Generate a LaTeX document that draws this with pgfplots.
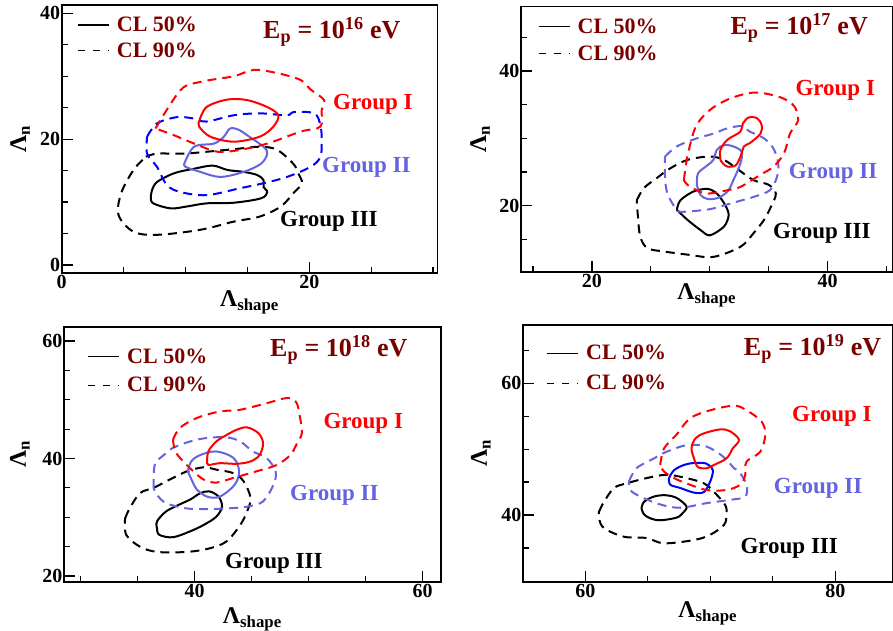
\documentclass[border=0pt]{standalone}
\usepackage{fontspec}
\setmainfont{Liberation Serif}
\usepackage{pgfplots}
\pgfplotsset{compat=1.18}
\definecolor{dred}{RGB}{122,0,0}
\definecolor{lblue}{RGB}{100,100,224}
\pgfplotsset{
  panel/.style={
    scale only axis,
    axis line style={line width=1.6pt},
    tick align=inside, xtick pos=lower, ytick pos=left,
    major tick length=11pt, minor tick length=6pt,
    major tick style={line width=1.3pt, black},
    minor tick style={line width=1.2pt, black},
    tick label style={font=\fontsize{20}{20}\selectfont},
    yticklabel style={inner xsep=1.5pt},
    xticklabel style={inner ysep=2pt},
    label style={font=\bfseries\fontsize{24}{24}\selectfont},
    ylabel style={anchor=center, inner sep=0pt},
    xlabel style={at={(axis description cs:0.5,0)}, anchor=north, inner sep=0pt},
    xlabel={\textbf{Λ\textsubscript{shape}}}, ylabel={\textbf{Λ\textsubscript{n}}},
    legend image code/.code={\draw[#1] (0pt,0pt) -- (31pt,0pt);},
    legend style={draw=none, fill=none, anchor=north west, inner sep=0pt,
      nodes={inner sep=0pt}, column sep=7.5pt,
      font=\fontsize{22}{22}\selectfont, text=dred},
    legend cell align=left,
  },
  c90/.style={line width=2pt, dash pattern=on 9pt off 6pt},
  c50/.style={line width=2pt},
}
\begin{document}
\begin{tikzpicture}
\path[use as bounding box] (0pt,0pt) rectangle (893pt,630pt);

% ---------- Panel 1: 10^16 eV
\begin{axis}[panel, at={(61.7pt,357.3pt)}, anchor=south west,
  width=375.6pt, height=267.7pt,
  xmin=0, xmax=30.34, ymin=-1.22, ymax=41.32,
  xtick={0,20}, xticklabels={\textbf{0},\textbf{20}}, minor xtick={5,10,15,25,30},
  ytick={0,20,40}, yticklabels={\textbf{0},\textbf{20},\textbf{40}}, minor ytick={5,10,15,25,30,35},
  ylabel style={at={(axis description cs:-0.111,0.5)}}, xlabel style={yshift=-18pt},
  legend style={at={(0.0407,0.956)}, row sep=9.5pt}]
\addlegendimage{black, line width=1.2pt}
\addlegendentry{\textbf{CL 50\%}}
\addlegendimage{black, line width=1.2pt, dash pattern=on 7pt off 8pt}
\addlegendentry{\textbf{CL 90\%}}
\addplot[black, c90, smooth, tension=0.55] coordinates {(6.8,17.2) (7.7,17.7) (9.9,17.7) (11.7,18.0) (13.9,18.4) (16.0,18.8) (17.4,18.3) (18.7,16.1) (19.1,14.6) (19.4,13.0) (18.7,11.4) (17.7,9.3) (16.0,7.7) (13.9,6.9) (11.2,5.6) (7.7,4.8) (5.8,5.3) (4.6,7.9) (4.8,11.4) (5.8,15.1) (6.8,17.2)};
\addplot[black, c50, smooth, tension=0.55] coordinates {(7.3,11.9) (7.7,13.2) (9.1,14.6) (10.7,15.3) (12.2,15.8) (13.4,15.1) (14.7,14.8) (15.8,14.3) (16.3,13.5) (16.3,12.4) (16.6,11.6) (16.1,10.6) (13.9,9.9) (11.7,9.8) (10.1,9.3) (8.8,9.0) (7.4,9.8) (7.2,10.8) (7.3,11.9)};
\addplot[blue, c90, smooth, tension=0.55] coordinates {(6.9,20.4) (7.7,22.5) (9.3,23.5) (10.6,23.3) (11.7,22.8) (13.9,23.8) (16.0,24.1) (18.2,23.8) (18.7,24.3) (20.4,24.1) (20.9,22.2) (21.0,19.8) (20.9,17.2) (20.1,15.6) (18.2,14.0) (16.3,13.0) (14.4,12.2) (11.7,11.1) (9.6,11.6) (8.5,12.7) (7.7,15.6) (6.9,17.7) (6.9,20.4)};
\addplot[lblue, c50, smooth, tension=0.55] coordinates {(9.9,16.1) (10.7,18.8) (12.3,19.3) (13.1,20.4) (13.6,21.7) (14.3,21.5) (15.0,20.6) (16.3,18.8) (16.6,17.7) (16.1,16.1) (14.7,14.8) (12.8,14.0) (11.2,14.8) (10.0,15.6) (9.9,16.1)};
\addplot[red, c90, smooth, tension=0.55] coordinates {(7.58,21.7) (9.6,27.8) (11.2,29.1) (13.9,30.0) (15.5,31.0) (17.4,30.5) (19.3,29.4) (20.1,27.9) (21.2,26.2) (21.0,24.6) (20.9,22.0) (19.3,21.2) (16.6,19.3) (14.4,18.3) (12.6,18.0) (10.7,19.3) (9.1,20.6) (7.58,21.7)};
\addplot[red, c50, smooth, tension=0.55] coordinates {(11.1,22.8) (11.7,25.1) (13.4,26.3) (15.0,26.2) (16.6,25.1) (17.5,23.8) (17.1,22.0) (16.0,20.4) (13.9,19.6) (12.0,20.4) (11.1,22.0) (11.1,22.8)};
\end{axis}

% ---------- Panel 2: 10^17 eV
\begin{axis}[panel, at={(521pt,358.3pt)}, anchor=south west,
  width=371.5pt, height=265pt,
  xmin=13.98, xmax=45.5, ymin=10.2, ymax=49.55,
  xtick={20,40}, xticklabels={\textbf{20},\textbf{40}}, minor xtick={15,25,30,35,45},
  ytick={20,40}, yticklabels={\textbf{20},\textbf{40}}, minor ytick={15,25,30,35,45},
  ylabel style={at={(axis description cs:-0.110,0.5)}}, xlabel style={yshift=-11.6pt},
  legend style={at={(0.045,0.956)}, row sep=11pt}]
\addlegendimage{black, line width=1.2pt}
\addlegendentry{\textbf{CL 50\%}}
\addlegendimage{black, line width=1.2pt, dash pattern=on 7pt off 8pt}
\addlegendentry{\textbf{CL 90\%}}
\addplot[black, c90, smooth, tension=0.55] coordinates {(23.8,20.8) (24.4,22.6) (25.5,24.1) (26.6,25.5) (28.1,26.8) (30.0,27.3) (31.2,26.8) (32.3,25.5) (33.7,23.8) (35.0,23.1) (35.6,21.8) (35.2,19.9) (34.6,17.9) (33.7,15.9) (32.6,13.9) (30.3,12.4) (28.3,12.7) (26.1,13.2) (24.7,13.7) (24.1,15.4) (23.9,18.4) (23.8,20.8)};
\addplot[black, c50, smooth, tension=0.5] coordinates {(27.2,19.4) (27.5,20.8) (28.6,22.1) (29.8,22.5) (30.6,21.8) (31.3,20.1) (31.6,18.6) (31.2,16.9) (30.0,15.6) (29.2,16.4) (28.1,17.9) (27.2,19.4)};
\addplot[lblue, c90, smooth, tension=0.55] coordinates {(26.2,27.3) (27.2,28.8) (28.9,30.0) (30.3,30.7) (31.5,31.5) (32.7,31.8) (33.4,31.0) (34.6,30.0) (35.4,28.5) (35.8,26.3) (35.7,24.3) (35.1,22.3) (33.7,21.3) (32.3,20.6) (30.3,19.6) (29.2,19.3) (27.5,19.1) (27.1,19.6) (26.4,21.8) (26.2,24.3) (26.2,27.3)};
\addplot[lblue, c50, smooth, tension=0.55] coordinates {(28.9,23.1) (29.0,24.8) (29.8,26.0) (30.3,26.8) (30.6,28.3) (31.2,29.0) (32.0,28.8) (32.7,28.0) (32.6,26.3) (32.0,23.8) (31.5,22.1) (30.6,21.1) (29.8,21.0) (29.2,21.6) (28.9,23.1)};
\addplot[red, c90, smooth, tension=0.55] coordinates {(27.8,23.8) (28.1,27.3) (28.8,31.7) (30.0,34.2) (31.7,35.9) (33.7,36.8) (35.4,36.4) (36.5,35.7) (37.2,34.7) (37.5,32.7) (36.8,30.7) (36.3,27.8) (35.4,25.8) (34.3,24.6) (32.6,22.8) (31.5,22.3) (29.8,21.8) (28.9,22.3) (28.1,23.1) (27.8,23.8)};
\addplot[red, c50, smooth, tension=0.55] coordinates {(30.9,26.8) (30.9,28.3) (31.5,29.8) (32.6,31.0) (32.8,32.2) (33.3,33.1) (34.0,33.0) (34.4,32.0) (34.3,30.7) (33.4,29.3) (32.9,28.8) (32.6,27.3) (32.2,26.0) (31.5,25.8) (31.1,26.3) (30.9,26.8)};
\end{axis}

% ---------- Panel 3: 10^18 eV
\begin{axis}[panel, at={(64pt,48.3pt)}, anchor=south west,
  width=376.7pt, height=255pt,
  xmin=28.54, xmax=61.58, ymin=19.03, ymax=62.43,
  xtick={40,60}, xticklabels={\textbf{40},\textbf{60}}, minor xtick={30,35,45,50,55},
  ytick={20,40,60}, yticklabels={\textbf{20},\textbf{40},\textbf{60}}, minor ytick={25,30,35,45,50,55},
  ylabel style={at={(axis description cs:-0.117,0.5)}}, xlabel style={yshift=-26pt},
  legend style={at={(0.0619,0.915)}, row sep=12.5pt}]
\addlegendimage{black, line width=1.2pt}
\addlegendentry{\textbf{CL 50\%}}
\addlegendimage{black, line width=1.2pt, dash pattern=on 7pt off 8pt}
\addlegendentry{\textbf{CL 90\%}}
\addplot[black, c90, smooth, tension=0.55] coordinates {(33.9,29.8) (34.3,31.5) (35.2,34.1) (36.4,35.0) (37.5,36.1) (39.3,37.8) (40.8,38.5) (41.9,38.1) (43.4,37.5) (44.3,36.1) (44.9,33.3) (44.6,31.0) (44.0,28.7) (42.8,25.9) (41.3,24.7) (39.3,24.1) (36.7,24.1) (35.2,25.0) (34.0,27.0) (33.9,29.8)};
\addplot[black, c50, smooth, tension=0.55] coordinates {(36.7,28.1) (36.7,29.3) (37.5,31.0) (38.7,32.2) (39.6,33.0) (40.5,34.1) (41.3,34.4) (42.1,33.5) (42.4,31.8) (41.9,30.1) (40.8,28.7) (39.6,27.6) (38.1,26.6) (36.9,27.0) (36.7,28.1)};
\addplot[lblue, c90, smooth, tension=0.55] coordinates {(36.4,35.0) (36.5,38.9) (37.3,40.6) (38.1,41.8) (39.6,42.9) (41.1,43.5) (42.8,43.6) (44.0,42.9) (45.1,41.2) (46.3,40.1) (47.1,37.8) (46.9,35.5) (46.0,32.7) (44.6,31.8) (42.8,31.5) (41.1,31.4) (39.3,31.5) (37.5,32.4) (36.7,33.8) (36.4,35.0)};
\addplot[lblue, c50, smooth, tension=0.55] coordinates {(39.4,37.8) (39.7,39.5) (40.5,40.6) (41.9,41.2) (43.4,40.1) (43.9,37.8) (43.5,35.5) (42.2,33.5) (41.1,33.5) (40.2,34.7) (39.8,36.1) (39.4,37.8)};
\addplot[red, c90, smooth, tension=0.55] coordinates {(38.1,43.2) (38.7,45.2) (40.2,46.9) (42.2,48.0) (44.0,48.3) (46.3,49.4) (48.1,50.3) (48.9,49.6) (49.2,47.4) (49.4,44.3) (48.9,42.3) (48.4,40.6) (47.2,38.9) (45.4,37.8) (43.4,36.7) (41.9,35.9) (40.8,36.4) (39.9,37.8) (39.0,39.5) (38.3,41.2) (38.1,43.2)};
\addplot[red, c50, smooth, tension=0.55] coordinates {(41.1,39.5) (41.2,41.2) (41.9,42.9) (42.8,44.0) (43.7,44.9) (44.6,45.3) (45.6,44.3) (46.0,42.6) (45.7,40.6) (44.9,39.5) (43.7,39.1) (42.2,39.2) (41.2,38.9) (41.1,39.5)};
\end{axis}

% ---------- Panel 4: 10^19 eV
\begin{axis}[panel, at={(523pt,48.3pt)}, anchor=south west,
  width=369.5pt, height=256.7pt,
  xmin=55.02, xmax=84.58, ymin=29.87, ymax=68.85,
  xtick={60,80}, xticklabels={\textbf{60},\textbf{80}}, minor xtick={65,70,75},
  ytick={40,60}, yticklabels={\textbf{40},\textbf{60}}, minor ytick={35,45,50,55,65},
  ylabel style={at={(axis description cs:-0.114,0.5)}}, xlabel style={yshift=-20pt},
  legend style={at={(0.063,0.922)}, row sep=14pt}]
\addlegendimage{black, line width=1.2pt}
\addlegendentry{\textbf{CL 50\%}}
\addlegendimage{black, line width=1.2pt, dash pattern=on 7pt off 8pt}
\addlegendentry{\textbf{CL 90\%}}
\addplot[black, c90, smooth, tension=0.55] coordinates {(61.1,40.5) (61.5,42.0) (62.3,44.1) (63.3,44.8) (64.9,45.6) (66.5,46.1) (68.1,45.6) (69.5,44.8) (70.3,43.5) (71.2,41.5) (71.3,40.0) (71.1,38.5) (70.0,37.0) (68.7,36.2) (66.3,35.7) (64.9,36.5) (63.1,36.7) (61.5,38.0) (61.1,39.5) (61.1,40.5)};
\addplot[black, c50, smooth, tension=0.55] coordinates {(64.5,41.0) (64.7,42.0) (65.5,42.8) (66.4,43.0) (67.3,42.6) (68.1,41.3) (67.8,40.3) (67.3,39.6) (66.0,39.2) (65.2,39.5) (64.7,40.1) (64.5,41.0)};
\addplot[lblue, c90, smooth, tension=0.55] coordinates {(63.5,45.1) (64.1,47.1) (65.5,48.6) (66.5,49.6) (68.1,50.6) (69.5,50.5) (70.5,49.6) (71.3,48.4) (71.9,47.1) (72.3,46.6) (72.9,44.6) (72.8,42.8) (71.6,42.3) (69.7,41.8) (67.6,41.1) (66.0,41.6) (64.4,42.8) (63.6,43.8) (63.5,45.1)};
\addplot[blue, c50, smooth, tension=0.55] coordinates {(66.7,45.6) (67.1,46.8) (67.9,47.6) (68.7,47.9) (69.7,47.8) (70.2,46.8) (70.0,45.1) (69.5,43.5) (68.7,43.4) (67.6,44.1) (66.8,44.6) (66.7,45.6)};
\addplot[red, c90, smooth, tension=0.55] coordinates {(66.0,47.6) (66.3,50.1) (67.3,52.2) (68.4,54.7) (70.0,55.9) (71.9,56.6) (72.9,55.9) (74.1,54.2) (74.4,52.2) (74.0,49.6) (72.9,48.1) (72.8,46.1) (72.4,44.6) (71.3,43.8) (69.7,43.8) (68.1,44.8) (67.1,45.6) (66.3,46.6) (66.0,47.6)};
\addplot[red, c50, smooth, tension=0.55] coordinates {(68.7,48.6) (68.5,50.1) (68.8,51.6) (69.5,52.4) (70.8,53.0) (71.6,52.7) (72.3,51.4) (71.8,50.1) (71.3,48.6) (70.3,47.6) (69.7,47.1) (69.0,47.3) (68.7,48.6)};
\end{axis}

% ---------- Titles and group labels
\begin{scope}[every node/.style={anchor=base west, inner sep=0pt, font=\fontsize{23}{23}\selectfont}]
\node[text=dred, font=\fontsize{26}{26}\selectfont] at (263pt,591.7pt) {\textbf{E\textsubscript{p} = 10\textsuperscript{16} eV}};
\node[text=red] at (333pt,520.7pt) {\textbf{Group I}};
\node[text=lblue] at (322pt,457.3pt) {\textbf{Group II}};
\node[text=black] at (280pt,403.3pt) {\textbf{Group III}};

\node[text=dred, font=\fontsize{26}{26}\selectfont] at (730.3pt,595pt) {\textbf{E\textsubscript{p} = 10\textsuperscript{17} eV}};
\node[text=red] at (795.3pt,534pt) {\textbf{Group I}};
\node[text=lblue] at (788.7pt,451.7pt) {\textbf{Group II}};
\node[text=black] at (773pt,391.7pt) {\textbf{Group III}};

\node[text=dred, font=\fontsize{26}{26}\selectfont] at (270pt,273.3pt) {\textbf{E\textsubscript{p} = 10\textsuperscript{18} eV}};
\node[text=red] at (323.3pt,201.7pt) {\textbf{Group I}};
\node[text=lblue] at (290pt,130pt) {\textbf{Group II}};
\node[text=black] at (225pt,61.7pt) {\textbf{Group III}};

\node[text=dred, font=\fontsize{26}{26}\selectfont] at (743.7pt,274.3pt) {\textbf{E\textsubscript{p} = 10\textsuperscript{19} eV}};
\node[text=red] at (792pt,209pt) {\textbf{Group I}};
\node[text=lblue] at (773.7pt,136.7pt) {\textbf{Group II}};
\node[text=black] at (740.3pt,76.7pt) {\textbf{Group III}};
\end{scope}
\end{tikzpicture}
\end{document}
